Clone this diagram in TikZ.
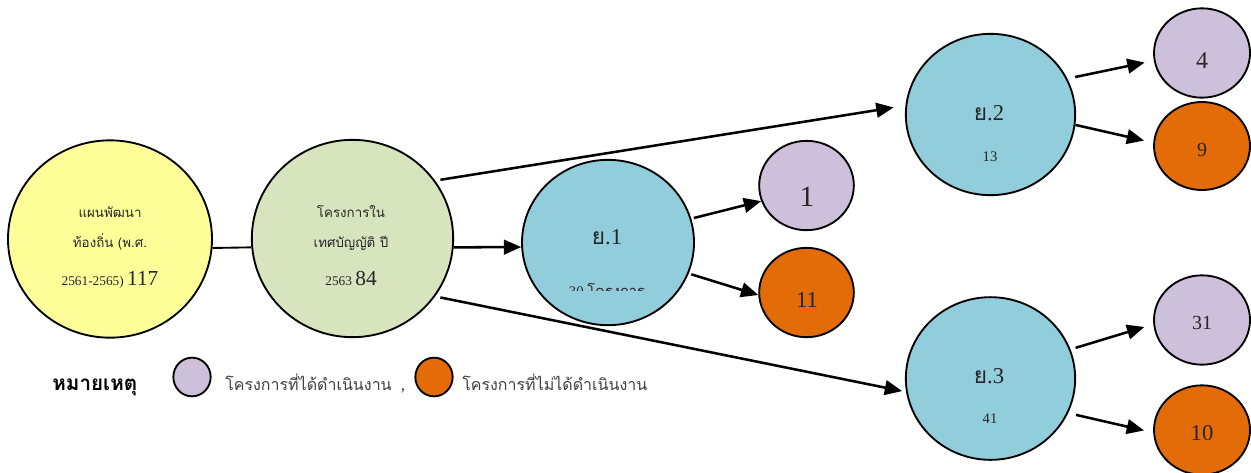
\documentclass[tikz,border=0pt]{standalone}
\usepackage{fontspec}
\setmainfont{Liberation Serif}
\newfontfamily\thaifont[Script=Thai]{Loma}
\usepackage{tikz}
\usetikzlibrary{positioning, arrows.meta, shapes.geometric}
\definecolor{planyellow}{HTML}{FFFF99}
\definecolor{budgetgreen}{HTML}{D7E4BD}
\definecolor{stratblue}{HTML}{92CDDC}
\definecolor{donepurple}{HTML}{CCC0DA}
\definecolor{notdoneorange}{HTML}{E36C09}

\begin{document}
\begin{tikzpicture}[x=0.75pt, y=-0.75pt,
  bubble/.style={ellipse, draw, line width=1.4pt, inner sep=0pt},
  arr/.style={-{Triangle[length=13pt,width=11pt]}, line width=1.9pt},
  txt/.style={anchor=base, inner sep=0pt, text=black!85}]

\useasboundingbox (0,0) rectangle (1251,472);

% main bubbles
\node[bubble, fill=planyellow, minimum width=153pt, minimum height=148pt] (plan) at (110,239) {};
\node[bubble, fill=budgetgreen, minimum width=151pt, minimum height=148pt] (budget) at (352.5,238.5) {};
\node[bubble, fill=stratblue, minimum width=129pt, minimum height=124pt] (y1) at (608,242.5) {};
\node[bubble, fill=stratblue, minimum width=127pt, minimum height=121pt] (y2) at (990.5,114.5) {};
\node[bubble, fill=stratblue, minimum width=127pt, minimum height=122pt] (y3) at (990.5,378.5) {};

% done / not done
\node[bubble, fill=donepurple, minimum width=71pt, minimum height=67pt] (d1) at (806.5,185.5) {};
\node[bubble, fill=notdoneorange, minimum width=71pt, minimum height=67pt] (n1) at (806.5,292.5) {};
\node[bubble, fill=donepurple, minimum width=72pt, minimum height=67pt] (d2) at (1202,53) {};
\node[bubble, fill=notdoneorange, minimum width=72pt, minimum height=66pt] (n2) at (1202,146) {};
\node[bubble, fill=donepurple, minimum width=72pt, minimum height=67pt] (d3) at (1202,320) {};
\node[bubble, fill=notdoneorange, minimum width=72pt, minimum height=67pt] (n3) at (1202,430) {};

% texts
\node[txt, font=\thaifont\fontsize{10}{12}\selectfont] (plan1) at (110,217) {แผนพัฒนา};
\node[txt, font=\thaifont\fontsize{10}{12}\selectfont] (plan2) at (110,247) {ท้องถิ่น (พ.ศ.};
\node[txt] (plan3) at (110,285) {\fontsize{10}{12}\selectfont 2561-2565) \fontsize{16}{18}\selectfont 117};
\node[txt, font=\thaifont\fontsize{10}{12}\selectfont] (budget1) at (351,217) {โครงการใน};
\node[txt, font=\thaifont\fontsize{10}{12}\selectfont] (budget2) at (351,247) {เทศบัญญัติ ปี};
\node[txt] (budget3) at (351,285) {\fontsize{10}{12}\selectfont 2563 \fontsize{16}{18}\selectfont 84};

\node[txt, font=\fontsize{17}{19}\selectfont] (y1a) at (607,244) {{\thaifont ย}.1};
\begin{scope}
  \clip (530,270) rectangle (690,290); % text cut off in the bubble
  \node[txt, font=\fontsize{11}{13}\selectfont] (y1b) at (607,296) {30 {\thaifont โครงการ}};
\end{scope}
\node[txt, font=\fontsize{17}{19}\selectfont] (y2a) at (989,120) {{\thaifont ย}.2};
\node[txt, font=\fontsize{11}{13}\selectfont] (y2b) at (990,161) {13};
\node[txt, font=\fontsize{17}{19}\selectfont] (y3a) at (989,383) {{\thaifont ย}.3};
\node[txt, font=\fontsize{11}{13}\selectfont] (y3b) at (990,423) {41};

\node[txt, font=\fontsize{22}{24}\selectfont] (d1t) at (807,206) {1};
\node[txt, font=\fontsize{17}{19}\selectfont] (n1t) at (807,307) {11};
\node[txt, font=\fontsize{18}{20}\selectfont] (d2t) at (1202,68) {4};
\node[txt, font=\fontsize{15}{17}\selectfont] (n2t) at (1202,156) {9};
\node[txt, font=\fontsize{15}{17}\selectfont] (d3t) at (1202,329) {31};
\node[txt, font=\fontsize{17}{19}\selectfont] (n3t) at (1202,440) {10};

% connectors
\draw[line width=1.4pt] (plan.-5) -- (budget.185);
\draw[arr] (budget.-5) -- (y1.183);
\draw[arr, shorten >=9pt, shorten <=4pt] (budget.35) -- (y2.174);
\draw[arr, shorten >=3pt, shorten <=4pt] (budget.-35) -- (y3.189);
\draw[arr, shorten <=2pt] (y1.16) -- (d1.199);
\draw[arr, shorten <=2pt] (y1.-21) -- (n1.183);
\draw[arr, shorten >=7pt, shorten <=6pt] (y2.25) -- (d2.189);
\draw[arr, shorten >=7pt] (y2.-7) -- (n2.176);
\draw[arr, shorten >=7pt, shorten <=4pt] (y3.20) -- (d3.185);
\draw[arr, shorten >=7pt, shorten <=6pt] (y3.-24) -- (n3.183);

% legend
\node[txt, anchor=base west, text=black, font=\thaifont\bfseries\fontsize{15.5}{17}\selectfont] (note) at (52,390) {หมายเหตุ};
\node[bubble, fill=donepurple, minimum width=28pt, minimum height=29pt] (keydone) at (192,377) {};
\node[txt, anchor=base west, text=black!75, font=\thaifont\fontsize{12}{14}\selectfont] (keydonet) at (225,390) {โครงการที่ได้ดำเนินงาน};
\node[txt, text=black!75, font=\fontsize{13}{15}\selectfont] (comma) at (403,390) {,};
\node[bubble, fill=notdoneorange, minimum width=28pt, minimum height=29pt] (keynot) at (434,377) {};
\node[txt, anchor=base west, text=black!75, font=\thaifont\fontsize{12}{14}\selectfont] (keynott) at (462,390) {โครงการที่ไม่ได้ดำเนินงาน};
\end{tikzpicture}
\end{document}
